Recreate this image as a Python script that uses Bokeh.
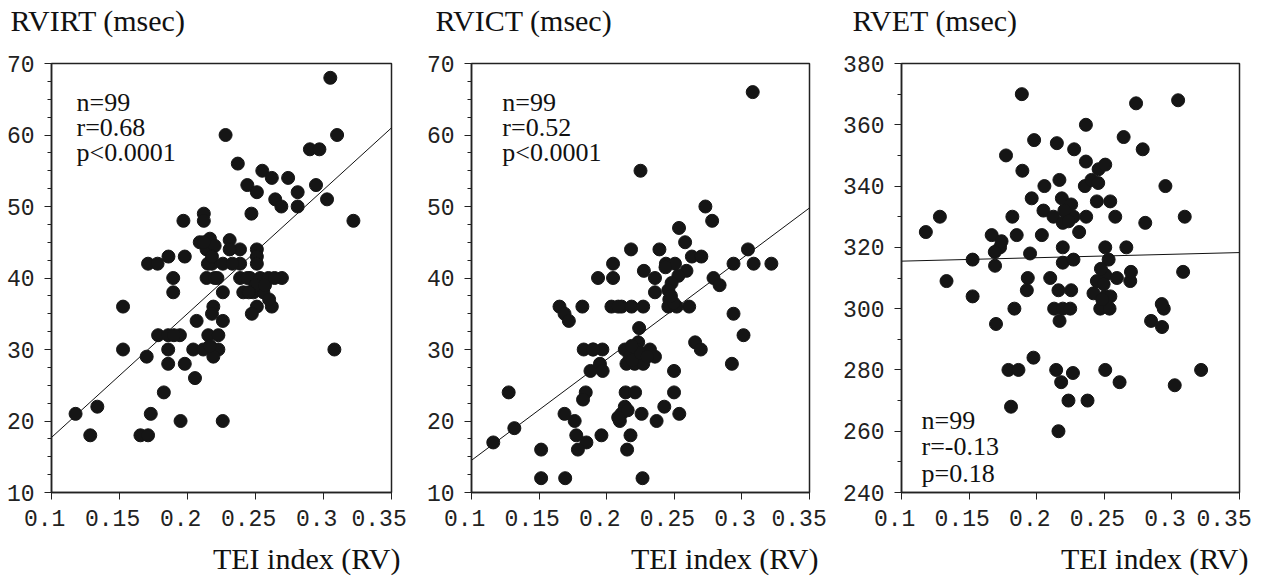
from bokeh.plotting import figure
from bokeh.models import Range1d, FixedTicker, NumeralTickFormatter, Label
from bokeh.layouts import row, column
from bokeh.core.properties import value
from bokeh.embed import file_html
from bokeh.resources import INLINE

# ---------------- data ----------------
tei_ticks = [0.1, 0.15, 0.2, 0.25, 0.3, 0.35]
fit_x = [0.1, 0.35]

# RVIRT (msec) vs TEI index (RV)
rvirt_tei = [0.305, 0.228, 0.310, 0.237, 0.255, 0.290, 0.297, 0.262, 0.274, 0.244,
             0.251, 0.2945, 0.281, 0.2645, 0.269, 0.281, 0.3026, 0.322, 0.247, 0.197,
             0.212, 0.212, 0.209, 0.2165, 0.214, 0.220, 0.231, 0.2386, 0.251, 0.251,
             0.251, 0.186, 0.198, 0.171, 0.178, 0.1895, 0.1895, 0.218, 0.226, 0.2387,
             0.214, 0.220, 0.226, 0.2387, 0.246, 0.2534, 0.2595, 0.2694, 0.241, 0.2485,
             0.2558, 0.262, 0.251, 0.219, 0.1526, 0.218, 0.226, 0.2067, 0.2473, 0.1784,
             0.1858, 0.1944, 0.2153, 0.2227, 0.1526, 0.170, 0.1858, 0.1858, 0.198, 0.2055,
             0.2042, 0.2116, 0.219, 0.2227, 0.219, 0.308, 0.1826, 0.1177, 0.1337, 0.1285,
             0.1654, 0.171, 0.173, 0.1949, 0.2259, 0.215, 0.222, 0.244, 0.250, 0.257,
             0.231, 0.212, 0.218, 0.233, 0.264, 0.245, 0.190, 0.2165, 0.260]
rvirt_ms = [68, 60, 60, 56, 55, 58, 58, 54, 54, 53,
            52, 53, 52, 51, 50, 50, 51, 48, 49, 48,
            49, 48, 45, 45.5, 44, 44.5, 45.3, 44, 44, 43,
            42, 43, 43, 42, 42, 40, 38, 42, 42, 42,
            40, 40, 38, 40, 40, 40, 40, 40, 38, 38,
            38, 36, 36, 36, 36, 35, 34, 34, 35, 32,
            32, 32, 32, 32, 30, 29, 30, 28, 28, 26,
            30, 30, 30, 30, 29, 30, 24, 21, 22, 18,
            18, 18, 21, 20, 20, 42, 40, 40, 39, 39,
            44, 45, 43, 42, 40, 38, 32, 30.5, 37]
rvirt_fit = [17.7, 61.0]

# RVICT (msec) vs TEI index (RV)
rvict_tei = [0.308, 0.225, 0.273, 0.278, 0.2535, 0.258, 0.218, 0.239, 0.263, 0.270,
             0.2047, 0.2438, 0.2505, 0.2047, 0.1936, 0.2275, 0.2357, 0.2357, 0.259, 0.253,
             0.248, 0.2456, 0.2463, 0.261, 0.279, 0.2835, 0.2938, 0.3045, 0.3087, 0.3218,
             0.2938, 0.1651, 0.1688, 0.172, 0.182, 0.2035, 0.211, 0.2184, 0.227, 0.2456,
             0.2518, 0.224, 0.3012, 0.2654, 0.2696, 0.2926, 0.183, 0.1898, 0.1968, 0.188,
             0.195, 0.197, 0.2134, 0.2233, 0.232, 0.2357, 0.2146, 0.2207, 0.227, 0.217,
             0.222, 0.2498, 0.2498, 0.2537, 0.2426, 0.2369, 0.2258, 0.214, 0.221, 0.2134,
             0.2109, 0.2097, 0.2176, 0.2151, 0.2265, 0.1845, 0.1825, 0.1688, 0.1763, 0.1775,
             0.185, 0.1787, 0.1961, 0.1515, 0.1515, 0.1693, 0.1275, 0.1317, 0.1161, 0.2085,
             0.2495, 0.219, 0.225, 0.230, 0.2475, 0.2155, 0.190, 0.2185, 0.2085, 0.2435]
rvict_ms = [66, 55, 50, 48, 47, 45, 44, 44, 43, 43,
            42, 42, 42, 40, 40, 41, 40, 38, 41, 40.3,
            39.3, 38.3, 37, 36, 40, 39, 42, 44, 42, 42,
            35, 36, 35, 34, 36, 36, 36, 36, 36, 36,
            36, 33, 32, 31, 30, 28, 30, 30, 30, 27,
            28, 27, 30, 31, 30, 29, 28, 28, 28, 29,
            30, 27, 24, 21, 22, 20, 21, 24, 24, 22,
            21, 20, 18, 16, 12, 24, 23, 21, 20, 18,
            17, 16, 18, 16, 12, 12, 24, 19, 17, 36,
            36.5, 28.5, 29.5, 29, 37.5, 21.5, 30, 30.5, 20.5, 41.5]
rvict_fit = [14.5, 49.8]

# RVET (msec) vs TEI index (RV)
rvet_tei = [0.189, 0.2735, 0.3046, 0.2364, 0.2643, 0.1981, 0.2149, 0.2277, 0.2784, 0.1773,
            0.1894, 0.2364, 0.2458, 0.2507, 0.2356, 0.2405, 0.2168, 0.2057, 0.2952, 0.1963,
            0.2186, 0.2255, 0.2445, 0.2544, 0.205, 0.2124, 0.2193, 0.2272, 0.2366, 0.2581,
            0.182, 0.1284, 0.3095, 0.2803, 0.118, 0.2314, 0.1667, 0.1852, 0.2038, 0.1729,
            0.169, 0.1526, 0.1692, 0.1951, 0.2193, 0.2193, 0.2272, 0.2507, 0.2663, 0.2532,
            0.3083, 0.1333, 0.1934, 0.210, 0.1526, 0.1927, 0.2161, 0.2255, 0.1835, 0.1699,
            0.2129, 0.2193, 0.2248, 0.2169, 0.2445, 0.2507, 0.242, 0.2507, 0.247, 0.2539,
            0.2495, 0.2593, 0.2692, 0.2697, 0.294, 0.2846, 0.2927, 0.1976, 0.1791, 0.1865,
            0.2144, 0.2268, 0.2181, 0.2507, 0.2613, 0.3216, 0.3021, 0.2235, 0.2376, 0.181,
            0.2161, 0.2205, 0.2475, 0.2545, 0.2485, 0.2925, 0.2235, 0.2455, 0.174]
rvet_ms = [370, 367, 368, 360, 356, 355, 354, 352, 352, 350,
           345, 348, 345.5, 347, 340, 342, 342, 340, 340, 336,
           336, 334, 335, 335, 332, 330, 328, 330, 330, 330,
           330, 330, 330, 328, 325, 325, 324, 324, 324, 320,
           318.5, 316, 314, 318, 320, 315, 316, 320, 320, 316,
           312, 309, 310, 310, 304, 306, 306, 306, 300, 295,
           300, 300, 300, 296, 309, 311, 305, 304, 300, 300,
           308, 310, 309, 312, 300, 296, 294, 284, 280, 280,
           280, 279, 276, 280, 276, 280, 275, 270, 270, 268,
           260, 332, 313, 304, 303, 301.5, 328.5, 341, 322]
rvet_fit = [315.5, 318.3]

SERIF = "Liberation Serif"
MONO = "Liberation Mono"
TOP_H = 40      # strip holding the panel titles
MAIN_H = 500    # scatter panels
CAP_H = 37      # strip holding the x captions


def text_strip(width, height, text, x, y, align):
    s = figure(width=width, height=height, x_range=Range1d(0, width), y_range=Range1d(0, height),
               x_axis_type=None, y_axis_type=None, min_border=0,
               output_backend="svg", toolbar_location=None)
    s.outline_line_color = None
    s.background_fill_color = "white"
    s.border_fill_color = "white"
    s.xgrid.visible = False
    s.ygrid.visible = False
    s.text(x=[x], y=[y], text=[text], text_font=value(SERIF), text_font_size="30px",
           text_align=align, text_baseline="middle", text_color="#111111")
    return s


def make_panel(xs, ys, fit_y, ylo, yhi, ymajor, yminor, stats, stats_x, stats_y,
               width, b_left, b_right):
    p = figure(width=width, height=MAIN_H, x_range=Range1d(0.1, 0.35), y_range=Range1d(ylo, yhi),
               output_backend="svg", toolbar_location=None,
               min_border_left=b_left, min_border_right=b_right,
               min_border_top=63 - TOP_H, min_border_bottom=MAIN_H - (63 - TOP_H) - 429)
    p.background_fill_color = "white"
    p.border_fill_color = "white"
    p.outline_line_color = "#222222"
    p.outline_line_width = 1.5
    p.xgrid.visible = False
    p.ygrid.visible = False

    p.xaxis.ticker = FixedTicker(ticks=tei_ticks, minor_ticks=[])
    p.xaxis.formatter = NumeralTickFormatter(format="0.[00]")
    p.xaxis.major_label_overrides = {t: ("%g" % t) + " " for t in tei_ticks}
    p.yaxis.ticker = FixedTicker(ticks=ymajor, minor_ticks=yminor)
    for ax in (p.xaxis[0], p.yaxis[0]):
        ax.axis_line_color = "#222222"
        ax.axis_line_width = 1.5
        ax.major_tick_line_color = "#222222"
        ax.minor_tick_line_color = "#222222"
        ax.major_tick_out = 7
        ax.major_tick_in = 0
        ax.minor_tick_out = 4
        ax.minor_tick_in = 0
        ax.major_label_text_font = MONO
        ax.major_label_text_font_size = "23px"
        ax.major_label_text_color = "#222222"
    p.xaxis.major_label_standoff = 7
    p.yaxis.major_label_standoff = 10

    p.line(fit_x, fit_y, line_color="#111111", line_width=1)
    p.scatter(xs, ys, size=13, fill_color="#151515", line_color="#151515")

    for txt, yy in zip(stats, stats_y):
        p.add_layout(Label(x=stats_x, y=yy, text=txt, text_font=SERIF, text_font_size="26px",
                           text_baseline="alphabetic", text_color="#111111"))
    return p


minor_a = [12.5, 15, 17.5, 22.5, 25, 27.5, 32.5, 35, 37.5, 42.5, 45, 47.5,
           52.5, 55, 57.5, 62.5, 65, 67.5]
widths = [420, 420, 425]

p1 = make_panel(rvirt_tei, rvirt_ms, rvirt_fit, 10, 70,
                [10, 20, 30, 40, 50, 60, 70], minor_a,
                ["n=99", "r=0.68", "p<0.0001"], 0.1184, [64.6, 61.1, 57.6],
                widths[0], 51, 29)
p2 = make_panel(rvict_tei, rvict_ms, rvict_fit, 10, 70,
                [10, 20, 30, 40, 50, 60, 70], minor_a,
                ["n=99", "r=0.52", "p<0.0001"], 0.1228, [64.6, 61.1, 57.6],
                widths[1], 51, 31)
p3 = make_panel(rvet_tei, rvet_ms, rvet_fit, 240, 380,
                [240, 260, 280, 300, 320, 340, 360, 380],
                [250, 270, 290, 310, 330, 350, 370],
                ["n=99", "r=-0.13", "p=0.18"], 0.1148, [263.6, 254.9, 246.2],
                widths[2], 61, 26)

# text centre heights inside the strips (measured from each strip's bottom)
title_mid = TOP_H - 20
caption_mid = 19
titles = [text_strip(widths[0], TOP_H, "RVIRT (msec)", 10, title_mid, "left"),
          text_strip(widths[1], TOP_H, "RVICT (msec)", 15, title_mid, "left"),
          text_strip(widths[2], TOP_H, "RVET (msec)", 12, title_mid, "left")]
captions = [text_strip(widths[0], CAP_H, "TEI index (RV)", 400, caption_mid, "right"),
            text_strip(widths[1], CAP_H, "TEI index (RV)", 398, caption_mid, "right"),
            text_strip(widths[2], CAP_H, "TEI index (RV)", 408, caption_mid, "right")]

layout = column(row(*titles), row(p1, p2, p3), row(*captions))
open("out.html", "w").write(file_html(layout, INLINE))
